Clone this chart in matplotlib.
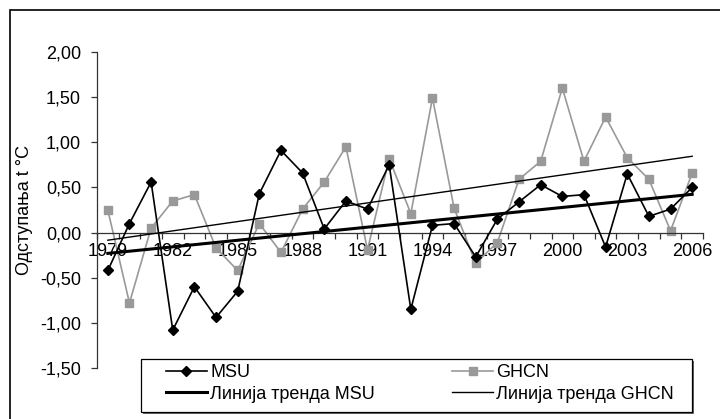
import numpy as np
import matplotlib
matplotlib.use("Agg")
import matplotlib.pyplot as plt
from matplotlib.patches import Rectangle

plt.rcParams['font.family'] = ['Liberation Sans', 'DejaVu Sans']

years = list(range(1979, 2007))
msu = [-0.42, 0.10, 0.56, -1.08, -0.60, -0.94, -0.65, 0.43, 0.91, 0.66,
       0.04, 0.35, 0.26, 0.75, -0.85, 0.08, 0.10, -0.27, 0.15, 0.34,
       0.53, 0.40, 0.42, -0.16, 0.65, 0.18, 0.26, 0.50]
ghcn = [0.25, -0.78, 0.05, 0.35, 0.42, -0.17, -0.42, 0.10, -0.22, 0.26,
        0.56, 0.95, -0.19, 0.82, 0.21, 1.49, 0.27, -0.34, -0.11, 0.59,
        0.79, 1.60, 0.79, 1.28, 0.83, 0.59, 0.02, 0.66]
xtick_years = [1979, 1982, 1985, 1988, 1991, 1994, 1997, 2000, 2003, 2006]
yticks = [-1.5, -1.0, -0.5, 0.0, 0.5, 1.0, 1.5, 2.0]
ytick_labels = ['-1,50', '-1,00', '-0,50', '0,00', '0,50', '1,00', '1,50', '2,00']
labels = ['MSU', 'GHCN', 'Линија тренда MSU', 'Линија тренда GHCN']
ylabel = 'Одступања t °C'

FS = 13
W, H = 720, 419
fig = plt.figure(figsize=(W / 100, H / 100), dpi=100)
ax = fig.add_axes([97 / W, 1 - 368 / H, 606 / W, 316 / H])

x = np.arange(len(years))
ln_msu, = ax.plot(x, msu, color='black', lw=1.2, marker='D', ms=5.5,
                  mfc='black', mec='black', zorder=3)
ln_ghcn, = ax.plot(x, ghcn, color='#999999', lw=1.2, marker='s', ms=6,
                   mfc='#999999', mec='#999999', zorder=2)
p1 = np.polyfit(x, msu, 1)
p2 = np.polyfit(x, ghcn, 1)
tr_msu, = ax.plot(x, np.polyval(p1, x), color='black', lw=2.2, zorder=4)
tr_ghcn, = ax.plot(x, np.polyval(p2, x), color='black', lw=1.0, zorder=4)

ax.set_xlim(-0.5, len(years) - 0.5)
ax.set_ylim(-1.5, 2.0)

for s in ['top', 'right']:
    ax.spines[s].set_visible(False)
ax.spines['bottom'].set_position(('data', 0))
for s in ['left', 'bottom']:
    ax.spines[s].set_color('#333333')
    ax.spines[s].set_linewidth(0.9)

ax.set_yticks(yticks)
ax.set_yticklabels(ytick_labels, fontsize=FS)
ax.tick_params(axis='y', direction='out', length=4.5, width=0.9,
               color='#333333', pad=7)

ax.set_xticks(np.arange(len(years) + 1) - 0.5)
ax.set_xticklabels([])
ax.tick_params(axis='x', which='major', direction='out', length=4,
               width=0.9, color='#333333')
ax.set_xticks([years.index(y) for y in xtick_years], minor=True)
ax.set_xticklabels([str(y) for y in xtick_years], minor=True, fontsize=FS)
ax.tick_params(axis='x', which='minor', length=0, pad=7.5)

ax.set_ylabel(ylabel, fontsize=FS)
ax.yaxis.set_label_coords(-0.105, 0.5)
ax.patch.set_alpha(0)

# legend frame with shadow
fig.patches.append(Rectangle((143 / W, 1 - 414 / H), 551 / W, 53 / H,
                             transform=fig.transFigure, facecolor='#666666',
                             edgecolor='none', zorder=3))
fig.patches.append(Rectangle((141 / W, 1 - 412 / H), 551 / W, 53 / H,
                             transform=fig.transFigure, facecolor='white',
                             edgecolor='black', lw=0.9, zorder=3.5))

leg = fig.legend([ln_msu, tr_msu, ln_ghcn, tr_ghcn],
                 [labels[0], labels[2], labels[1], labels[3]],
                 ncol=2, loc='upper left',
                 bbox_to_anchor=(166 / W, 1 - 364 / H),
                 fontsize=FS, frameon=False, handlelength=2.27,
                 handletextpad=0.17, borderpad=0, labelspacing=0.25,
                 borderaxespad=0, columnspacing=4.3)
leg.set_zorder(5)

fig.patches.append(Rectangle((10 / W, -0.2), 1.2, 1 - 10 / H + 0.2,
                             transform=fig.transFigure, fill=False,
                             edgecolor='black', lw=1.2))

fig.savefig('out.png', dpi=100)
